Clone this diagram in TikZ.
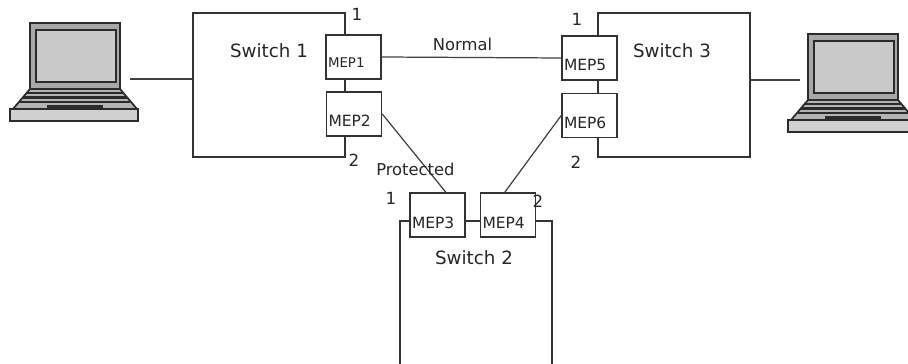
\documentclass[tikz,border=0pt]{standalone}
\usepackage{fontspec}
\setmainfont{DejaVu Sans}
\usepackage{xcolor}
\usepackage{tikz}
\usetikzlibrary{positioning, arrows.meta}

\definecolor{lidgray}{HTML}{A8A8A8}
\definecolor{screengray}{HTML}{C9C9C9}
\definecolor{basegray}{HTML}{B4B4B4}
\definecolor{slabgray}{HTML}{D0D0D0}
\definecolor{lapline}{HTML}{2B2B2B}

\tikzset{
  laptop/.pic = {
    \draw[lapline, line width=1pt, fill=basegray] (0,66) -- (90,66) -- (107,86) -- (-17,86) -- cycle;  % keyboard part
    \draw[lapline, line width=1pt, fill=slabgray] (-20,86) rectangle (108,98);  % bottom
    \draw[lapline, line width=1pt, fill=lidgray] (0,0) rectangle (90,66);  % lid
    \draw[lapline, line width=1pt, fill=screengray] (6,7) rectangle (86,59);  % screen
    \foreach \ky/\kx in {70/3, 74.5/7, 79/10}
      \draw[lapline, line width=1.5pt] (-\kx,\ky) -- (90+\kx,\ky);
    \fill[lapline] (17,82) rectangle (73,85);  % touchpad
    \coordinate (-east) at (100,56);
    \coordinate (-west) at (-8,46);
  }
}

\begin{document}
\begin{tikzpicture}[
    x = 0.02cm, y = -0.02cm,
    every node/.style = {text=black!85},
    switch/.style = {
        draw=black!80, line width=0.9pt, rectangle,
        minimum width=3.04cm, minimum height=2.88cm, inner sep=0pt
    },
    mep/.style = {
        draw=black!80, line width=0.9pt, rectangle, fill=white,
        minimum height=0.88cm, inner xsep=0.04cm, inner ysep=0pt,
        text width=1.02cm, align=left, text height=14.8pt, text depth=0pt,
        font=\fontsize{8.8}{10}\selectfont
    },
    swtext/.style = {font=\fontsize{10.4}{12}\selectfont},
    portnum/.style = {font=\fontsize{9.5}{11}\selectfont, inner sep=0pt},
    linetext/.style = {font=\fontsize{9.3}{11}\selectfont},
    link/.style = {draw=black!75, line width=0.7pt}
  ]
    \clip (0,0) rectangle (908,364);

    % switches
    \node[switch] (sw1) at (269,85) {};
    \node[switch] (sw3) at (674,85) {};
    \node[switch] (sw2) at (476,293) {};

    % MEP ports on the switch edges
    \node[mep, font=\fontsize{7.6}{9}\selectfont, text height=11.4pt] (mep1) at (353.5,57) {MEP1};
    \node[mep] (mep2) at (354,114) {MEP2};
    \node[mep] (mep5) at (589.5,58) {MEP5};
    \node[mep] (mep6) at (589.5,115.5) {MEP6};
    \node[mep] (mep3) at (437.5,215) {MEP3};
    \node[mep] (mep4) at (508,215) {MEP4};

    % hosts
    \pic (lap1) at (30,23) {laptop};
    \pic (lap2) at (808,34) {laptop};

    \draw[link] (lap1-east) -- (lap1-east -| sw1.west);
    \draw[link] (sw3.east |- lap2-west) -- (lap2-west);
    \draw[link] (mep1.east) -- node[linetext, above, pos=0.45] {Normal} (mep5.west);
    \draw[link] (mep2.east) -- node[linetext, pos=0.71, xshift=-0.24cm] {Protected} (mep3.70);
    \draw[link] (mep6.west) -- (mep4.98);

    % names and port numbers
    \node[swtext] (sw1-name) at ([yshift=-0.77cm]sw1.north) {Switch 1};
    \node[swtext] (sw3-name) at ([xshift=-0.04cm, yshift=-0.77cm]sw3.north) {Switch 3};
    \node[swtext] (sw2-name) at ([xshift=-0.04cm, yshift=-0.74cm]sw2.north) {Switch 2};
    \node[portnum] (sw1-p1) at (357,14) {1};
    \node[portnum] (sw1-p2) at (354,160) {2};
    \node[portnum] (sw3-p1) at (577,19) {1};
    \node[portnum] (sw3-p2) at (576,162) {2};
    \node[portnum] (sw2-p1) at (391,198) {1};
    \node[portnum] (sw2-p2) at (538,201) {2};
\end{tikzpicture}
\end{document}
